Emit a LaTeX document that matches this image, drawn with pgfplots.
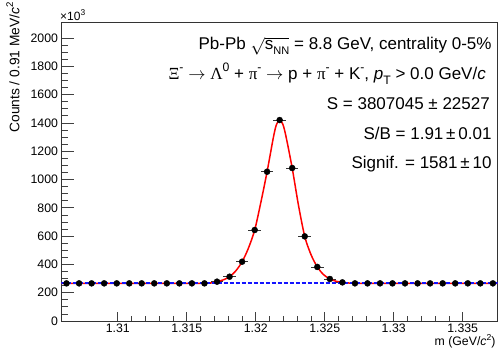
\documentclass[border=0pt]{standalone}
\usepackage{pgfplots}
\pgfplotsset{compat=1.18}
\usepackage{pgfplotstable}
\usepackage{fontspec}
\setmainfont{Liberation Sans}
\newfontfamily\greekfont{Liberation Serif}

\definecolor{fitred}{RGB}{255,0,0}
\definecolor{bkgblue}{RGB}{20,20,255}

% small raised / lowered text for charges and indices
\newcommand\sups[2][0.72]{\raisebox{0.45em}{\scalebox{#1}{#2}}}
\newcommand\subs[2][0.72]{\raisebox{-0.3em}{\scalebox{#1}{#2}}}
\newcommand\gr[1]{{\greekfont #1}}

% invariant-mass histogram, counts in units of 10^3
\pgfplotstableread{
x       y     ex
1.30628 266   0.000455
1.30719 266   0.000455
1.30810 266   0.000455
1.30901 266   0.000455
1.30992 266   0.000455
1.31083 266   0.000455
1.31173 266   0.000455
1.31264 266   0.000455
1.31355 266   0.000455
1.31446 266   0.000455
1.31537 266   0.000455
1.31628 266   0.000455
1.31719 278   0.000455
1.31810 313   0.000455
1.31901 419   0.000455
1.31992 643   0.000455
1.32082 1055  0.000455
1.32173 1420  0.000455
1.32264 1081  0.000455
1.32355 598   0.000455
1.32446 382   0.000455
1.32537 297   0.000455
1.32628 273   0.000455
1.32719 266   0.000455
1.32810 266   0.000455
1.32901 266   0.000455
1.32991 266   0.000455
1.33082 266   0.000455
1.33173 266   0.000455
1.33264 266   0.000455
1.33355 266   0.000455
1.33446 266   0.000455
1.33537 266   0.000455
1.33628 266   0.000455
1.33719 266   0.000455
}\histdata

% fitted signal + background curve
\pgfplotstableread{
x        y
1.305916 266
1.31083  266
1.31537  266
1.31628  266.5
1.31673  269
1.31719  278
1.31764  290.5
1.31810  313
1.31855  354
1.31901  419
1.31946  513
1.31992  643
1.32037  839
1.32082  1055
1.32128  1299
1.32150  1388
1.32173  1420
1.32196  1391
1.32218  1309
1.32264  1081
1.32309  821
1.32355  598
1.32400  470
1.32446  382
1.32491  328
1.32537  297
1.32582  281
1.32628  273
1.32673  268.5
1.32719  266.3
1.32810  266
1.33264  266
1.337524 266
}\fitdata

% flat background
\pgfplotstableread{
x        y
1.305916 266
1.337524 266
}\bkgdata

\pgfplotsset{
  massframe/.style={
    at={(0pt,0pt)}, anchor=south west,
    scale only axis, width=436pt, height=298.3pt,
    xmin=1.305916, xmax=1.337524, ymin=0, ymax=2108,
  },
}

\begin{document}
\begin{tikzpicture}
\path[use as bounding box] (-61.5pt,-27pt) rectangle (436.5pt,321pt);

% bin-width bars, drawn underneath everything else
\begin{axis}[massframe, hide axis]
\addplot[only marks, mark=none,
  error bars/.cd, x dir=both, x explicit,
  error bar style={draw=black!80, line width=0.8pt}, error mark=none]
  table[x=x, y=y, x error=ex] {\histdata};
\end{axis}

\begin{axis}[
  massframe,
  axis line style={black!80, line width=0.8pt},
  tick pos=left, tick align=inside,
  tick style={black!75, line width=0.7pt},
  major tick length=12.5pt, minor tick length=6.3pt,
  xtick style={/pgfplots/major tick length=9pt, /pgfplots/minor tick length=5pt},
  xtick={1.31,1.315,1.32,1.325,1.33,1.335},
  ytick={0,200,400,600,800,1000,1200,1400,1600,1800,2000},
  minor x tick num=4, minor y tick num=3,
  scaled ticks=false,
  ticklabel style={font=\fontsize{12.3}{12.3}\selectfont},
  /pgf/number format/assume math mode=true,
  xticklabel style={/pgf/number format/fixed, /pgf/number format/precision=3, yshift=0.5pt},
  yticklabel style={/pgf/number format/fixed, /pgf/number format/1000 sep={}},
]
% fitted function
\addplot[draw=fitred, line width=1.5pt, smooth, mark=none] table[x=x, y=y] {\fitdata};
% background
\addplot[draw=bkgblue, color=bkgblue, line width=1.8pt, dash pattern=on 4pt off 2pt, mark=none] table[x=x, y=y] {\bkgdata};
% data points
\addplot[only marks, mark=*, mark size=3pt, black] table[x=x, y=y] {\histdata};
\end{axis}

% axis titles and multiplier
\node[anchor=base west, font=\fontsize{12}{12}\selectfont, inner sep=0pt] at (-1.5pt,300.5pt) {×10\sups[0.7]{3}};
\node[anchor=base east, font=\fontsize{12.3}{12.3}\selectfont, inner sep=0pt] at (434.2pt,-24.7pt) {m (GeV/\textit{c}\sups[0.7]{2})};
\node[anchor=base east, rotate=90, font=\fontsize{13.8}{13.8}\selectfont, inner sep=0pt] at (-42.2pt,319pt) {Counts / 0.91 MeV/\textit{c}\sups[0.7]{2}};

% annotations
\begin{scope}[every node/.style={anchor=base east, inner sep=0pt, font=\fontsize{17}{17}\selectfont}]
\node at (430.2pt,271.7pt) {Pb-Pb $\sqrt{\mbox{s\subs[0.65]{NN}}}$ = 8.8 GeV, centrality 0-5\%};
\node at (424.5pt,241.7pt) {\gr{Ξ}\sups{-} $\rightarrow$ \gr{Λ}\sups{0} + \gr{π}\sups{-} $\rightarrow$ p + \gr{π}\sups{-} + K\sups{-}, \textit{p}\subs{T} > 0.0 GeV/\textit{c}};
\node at (428.5pt,211.7pt) {S = 3807045 ± 22527};
\node at (430.2pt,181.7pt) {S/B = 1.91\,±\,0.01};
\node at (430.2pt,152pt) {Signif. = 1581\,±\,10};
\end{scope}
\end{tikzpicture}
\end{document}
